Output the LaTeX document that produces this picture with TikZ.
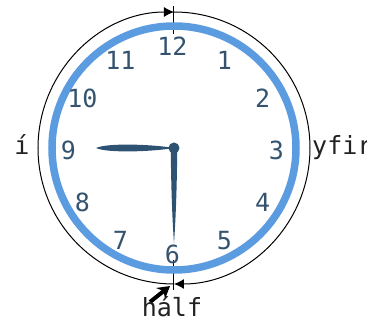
\documentclass[tikz,border=0pt]{standalone}
\usepackage{fontspec}
\usepackage{xcolor}
\usepackage{tikz}
\usetikzlibrary{calc,arrows.meta}
\newfontfamily\clockfont{DejaVu Sans Mono}
\definecolor{ringblue}{HTML}{5B9BE0}
\definecolor{handx}{HTML}{2E5272}
\definecolor{digitx}{HTML}{34536F}
\definecolor{inkx}{HTML}{222222}
\tikzset{
  ar/.style={-{Latex[length=10pt,width=10pt]},line width=1pt,black},
  digit/.style={font=\clockfont\fontsize{25}{27}\selectfont,text=digitx,inner sep=0pt},
  word/.style={font=\clockfont\fontsize{25}{27}\selectfont,text=inkx,inner sep=0pt},
  hand/.style={fill=handx,draw=none}
}

\begin{document}
\begin{tikzpicture}[x=1pt,y=1pt]
\useasboundingbox (-174,-173) rectangle (193,148);
% outer arcs
\draw[ar] (0,-136) arc[start angle=270,end angle=90,radius=136];
\draw[ar] (0,136) arc[start angle=90,end angle=-90,radius=136];
\coordinate (ttop) at (0,142);
\coordinate (tbot) at (0,-142);
\draw[line width=1pt] (ttop) -- (0,114);
\draw[line width=1pt] (0,-112) -- (tbot);
\draw[line width=4pt,-{Stealth[length=12pt,width=14pt]}] (-24,-154) -- (-4,-138);
% dial
\draw[ringblue,line width=7.5pt] (0,0) circle (122);
\coordinate (dc) at (-1.5,-2);
\foreach \h in {1,...,12}
  \node[digit] (n\h) at ($(dc)+({90-30*\h}:104)$) {\h};
% hands
\fill[hand] (0,0) .. controls (-20,3.5) and (-66,5.5) .. (-78,0)
  .. controls (-66,-5.5) and (-20,-3.5) .. (0,0) -- cycle;
\fill[hand] (-3.2,0) .. controls (-3,-40) and (-1.5,-75) .. (0,-95)
  .. controls (1.5,-75) and (3,-40) .. (3.2,0) -- cycle;
\fill[handx] (0,0) circle (5.5);
% words
\node[word,anchor=base] (lto) at (-152,-7) {í};
\node[word,anchor=base west] (lpast) at (138,-7) {yfir};
\node[word,anchor=base] (lhalf) at (-2,-168) {hálf};
\end{tikzpicture}
\end{document}
